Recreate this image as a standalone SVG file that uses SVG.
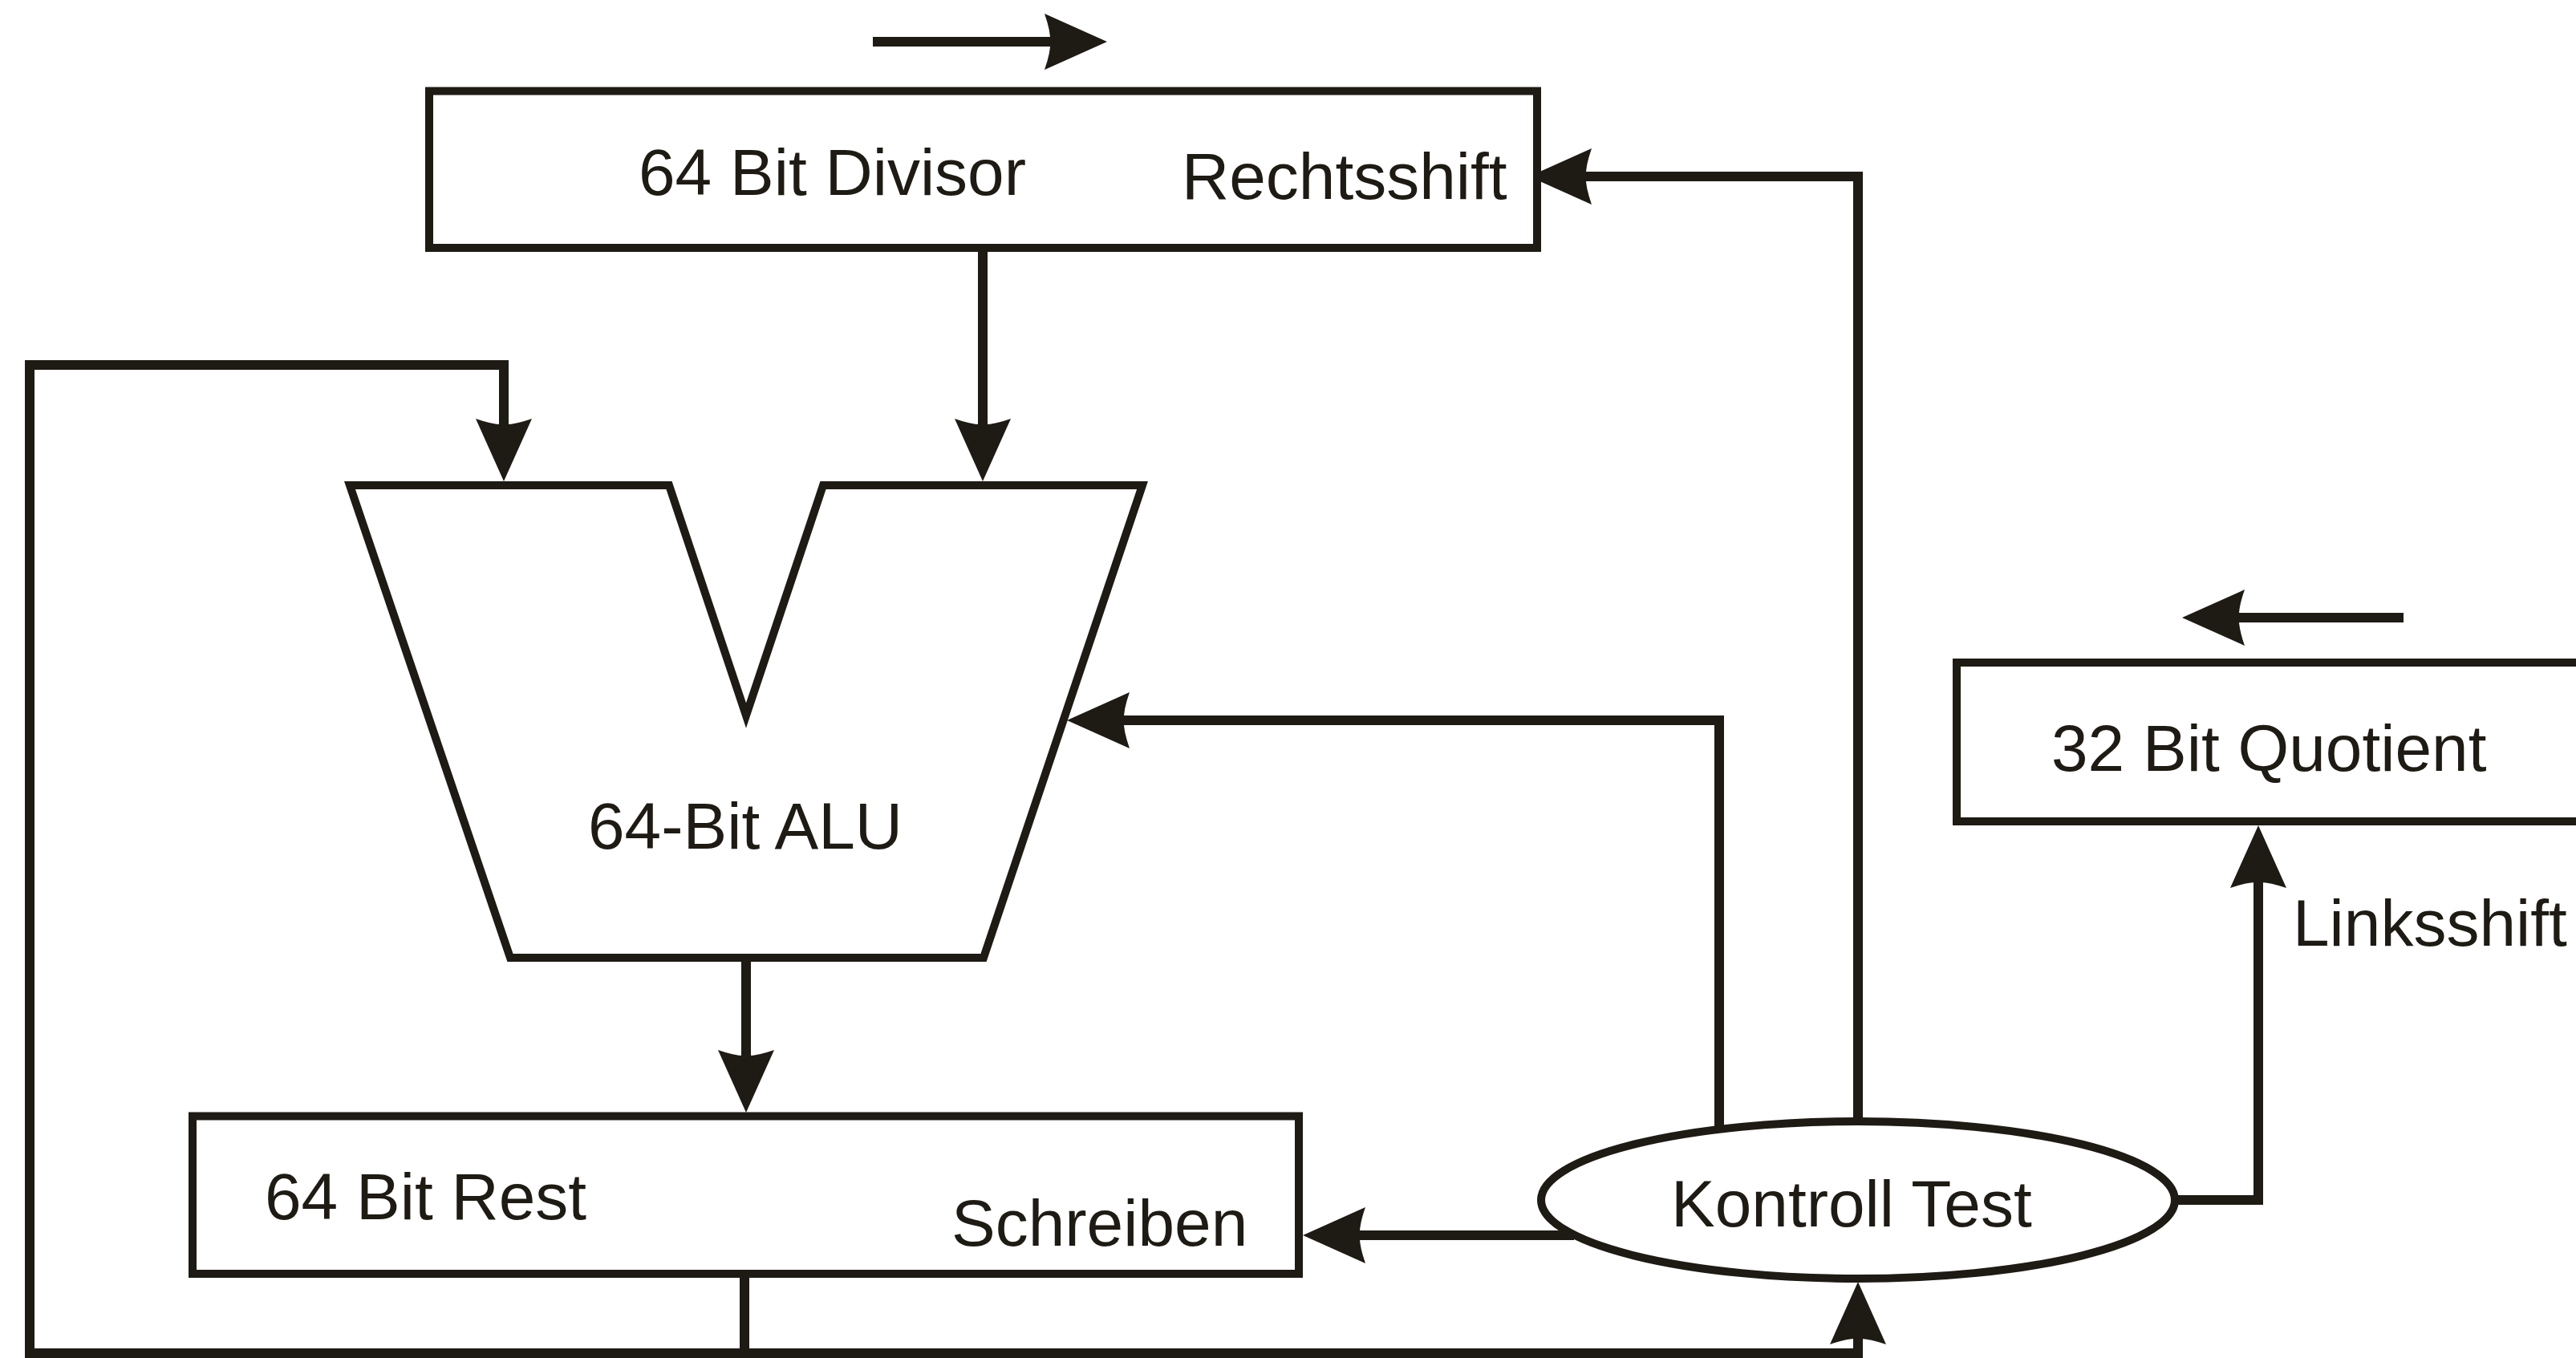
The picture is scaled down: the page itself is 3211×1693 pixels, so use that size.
<svg xmlns="http://www.w3.org/2000/svg" width="3211" height="1693" viewBox="0 0 3211 1693">
<style>
.box{fill:#fff;stroke:#1e1a14;stroke-width:10;stroke-linejoin:miter}
.con{fill:none;stroke:#1e1a14;stroke-width:12;stroke-linejoin:miter;stroke-linecap:butt}
.lbl{font-family:"Liberation Sans",Arial,sans-serif;font-size:82px;fill:#1e1a14}
</style>
<defs>
<marker id="ah" markerUnits="userSpaceOnUse" viewBox="-60 -36 82 72" markerWidth="82" markerHeight="72" refX="0" refY="0" orient="auto" overflow="visible">
<path d="M20,0 L-58,-35 Q-50,-12 -51,0 Q-50,12 -58,35 Z" fill="#1e1a14"/>
</marker>
</defs>
<rect width="3211" height="1693" fill="#fff"/>
<g id="connectors">
<path class="con" d="M1088,52 H1360" marker-end="url(#ah)"/>
<path class="con" d="M2996,770 H2740" marker-end="url(#ah)"/>
<path class="con" d="M2316,1398 V220 H1926" marker-end="url(#ah)"/>
<path class="con" d="M2143,1408 V898 H1350" marker-end="url(#ah)"/>
<path class="con" d="M1962,1540 H1644" marker-end="url(#ah)"/>
<path class="con" d="M2711,1496 H2815 V1049" marker-end="url(#ah)"/>
<path class="con" d="M1225,314 V580" marker-end="url(#ah)"/>
<path class="con" d="M930,1199 V1367" marker-end="url(#ah)"/>
<path class="con" d="M928,1593 V1687 H2316 V1618" marker-end="url(#ah)"/>
<path class="con" d="M928,1687 H37 V455 H628 V580" marker-end="url(#ah)"/>
</g>
<g id="divisor">
<rect class="box" x="535" y="113.5" width="1381" height="195.5"/>
<text class="lbl" x="796" y="243">64 Bit Divisor</text>
<text class="lbl" x="1473" y="248">Rechtsshift</text>
</g>
<g id="alu">
<polygon class="box" points="436,605 834,605 930,892 1026,605 1424,605 1226,1194 636,1194"/>
<text class="lbl" x="733" y="1058">64-Bit ALU</text>
</g>
<g id="rest">
<rect class="box" x="240" y="1391.5" width="1379" height="196.5"/>
<text class="lbl" x="330" y="1520">64 Bit Rest</text>
<text class="lbl" x="1186" y="1553">Schreiben</text>
</g>
<g id="kontroll">
<ellipse class="box" cx="2316" cy="1496" rx="395" ry="98"/>
<text class="lbl" x="2083" y="1529">Kontroll Test</text>
</g>
<g id="quotient">
<rect class="box" x="2439" y="826" width="800" height="198"/>
<text class="lbl" x="2557" y="961">32 Bit Quotient</text>
</g>
<g id="linksshift-label">
<text class="lbl" x="2858" y="1179">Linksshift</text>
</g>
</svg>
